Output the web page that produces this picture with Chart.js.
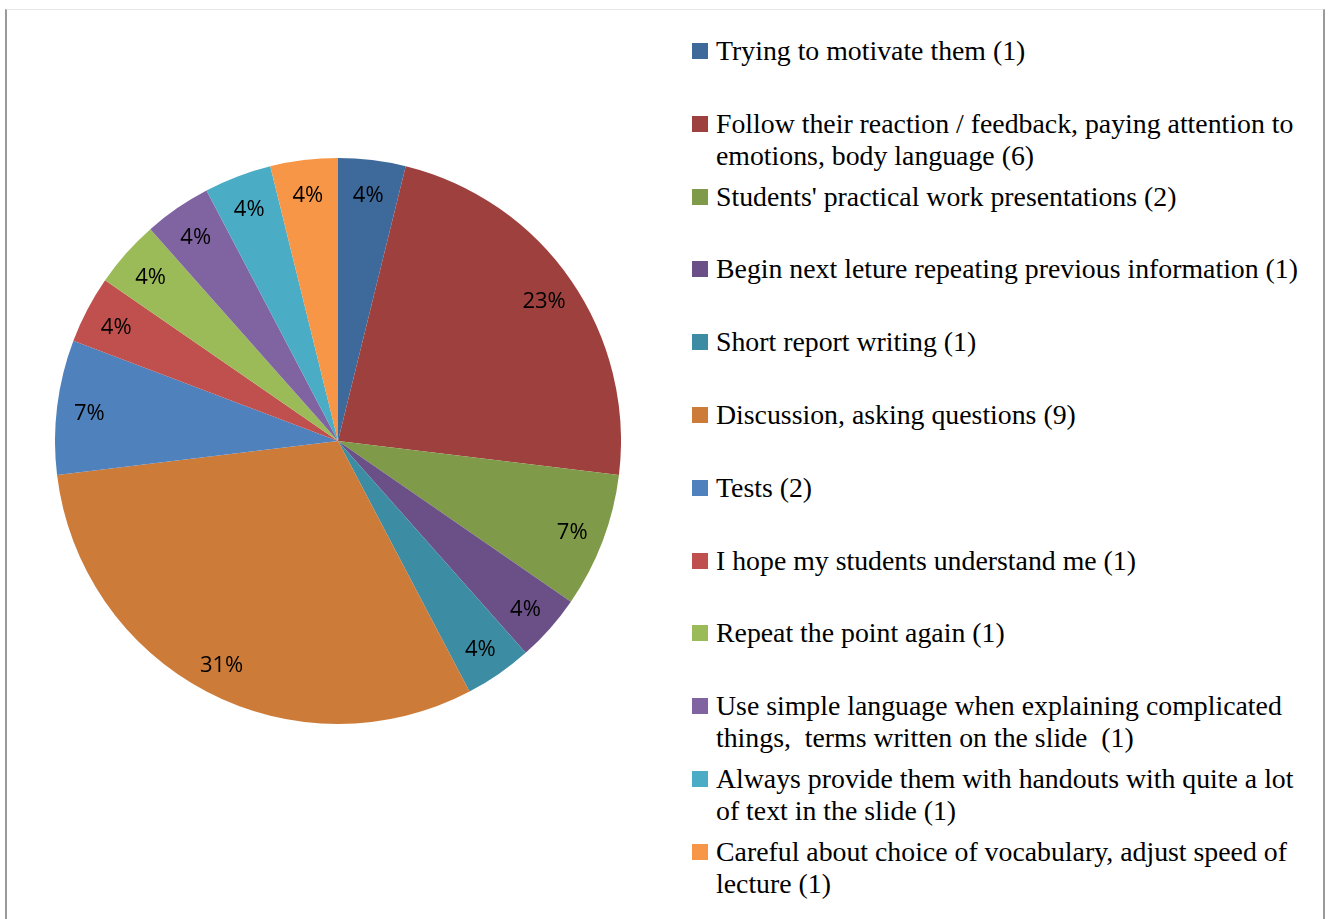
<!DOCTYPE html>
<html lang="en">
<head>
    <meta charset="UTF-8">
    <title>Feedback strategies</title>
    <style>
        body {
            margin: 0;
            background: #fff;
            width: 1329px;
            height: 919px;
            overflow: hidden;
        }
        #frame {
            position: absolute;
            left: 5px;
            top: 9px;
            width: 1316px;
            height: 930px;
            border-left: 2px solid #9a9a9a;
            border-right: 2px solid #9a9a9a;
            border-top: 1px solid #e6e6e6;
        }
        #pie-box {
            position: absolute;
            left: 55px;
            top: 158px;
            width: 566px;
            height: 566px;
        }
        #legend {
            position: absolute;
            left: 692px;
            top: 35px;
            font-family: "Liberation Serif", "Times New Roman", serif;
            font-size: 27.8px;
            color: #000;
        }
        .item {
            position: absolute;
            left: 0;
            white-space: pre;
            line-height: 32px;
        }
        .swatch {
            position: absolute;
            left: 0;
            top: 8px;
            width: 16px;
            height: 16px;
        }
        .text {
            position: absolute;
            left: 24px;
            top: 0;
        }
    </style>
</head>
<body>
    <div id="frame"></div>
    <div id="pie-box"><canvas id="pie"></canvas></div>
    <div id="legend"></div>

    <script src="https://cdn.jsdelivr.net/npm/chart.js"></script>
    <script>
        const labels = [
            ['Trying to motivate them (1)'],
            ['Follow their reaction / feedback, paying attention to', 'emotions, body language (6)'],
            ["Students' practical work presentations (2)"],
            ['Begin next leture repeating previous information (1)'],
            ['Short report writing (1)'],
            ['Discussion, asking questions (9)'],
            ['Tests (2)'],
            ['I hope my students understand me (1)'],
            ['Repeat the point again (1)'],
            ['Use simple language when explaining complicated', 'things,  terms written on the slide  (1)'],
            ['Always provide them with handouts with quite a lot', 'of text in the slide (1)'],
            ['Careful about choice of vocabulary, adjust speed of', 'lecture (1)']
        ];
        // slice sizes
        const values = [1, 6, 2, 1, 1, 8, 2, 1, 1, 1, 1, 1];
        // percentage labels as printed on the slices
        const pctLabels = ['4%', '23%', '7%', '4%', '4%', '31%', '7%', '4%', '4%', '4%', '4%', '4%'];
        const colors = [
            '#3e6a9b', '#9e413e', '#7f9a48', '#6a5087', '#3c8da3', '#cc7b38',
            '#4f81bd', '#c0504d', '#9bbb59', '#8064a2', '#4bacc6', '#f79646'
        ];

        // percentage text inside each slice, near the rim
        const sliceLabels = {
            id: 'sliceLabels',
            afterDatasetsDraw(chart) {
                const ctx = chart.ctx;
                const meta = chart.getDatasetMeta(0);
                ctx.save();
                ctx.font = '22px "Open Sans", sans-serif';
                ctx.fillStyle = '#000';
                ctx.textAlign = 'center';
                ctx.textBaseline = 'middle';
                meta.data.forEach((arc, i) => {
                    const mid = (arc.startAngle + arc.endAngle) / 2;
                    const r = arc.outerRadius * 0.885;
                    const x = arc.x + Math.cos(mid) * r;
                    const y = arc.y + Math.sin(mid) * r + 3;
                    ctx.fillText(pctLabels[i], x, y);
                });
                ctx.restore();
            }
        };

        new Chart(document.getElementById('pie'), {
            type: 'pie',
            data: {
                labels: labels.map(l => l.join(' ')),
                datasets: [{
                    data: values,
                    backgroundColor: colors,
                    borderWidth: 0
                }]
            },
            options: {
                responsive: true,
                maintainAspectRatio: false,
                animation: false,
                layout: { padding: 0 },
                plugins: {
                    legend: { display: false },
                    tooltip: { enabled: false }
                }
            },
            plugins: [sliceLabels]
        });

        // legend built from the same arrays
        const legend = document.getElementById('legend');
        labels.forEach((lines, i) => {
            const item = document.createElement('div');
            item.className = 'item';
            item.style.top = (i * 72.8) + 'px';
            const sw = document.createElement('div');
            sw.className = 'swatch';
            sw.style.background = colors[i];
            const txt = document.createElement('div');
            txt.className = 'text';
            txt.textContent = lines.join('\n');
            item.appendChild(sw);
            item.appendChild(txt);
            legend.appendChild(item);
        });
    </script>
</body>
</html>
